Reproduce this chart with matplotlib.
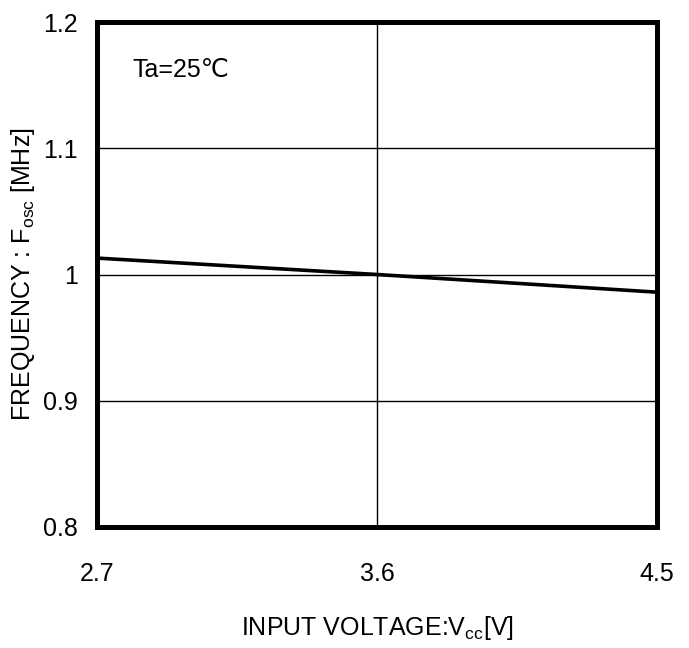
import matplotlib.pyplot as plt

# data
vcc = [2.7, 3.6, 4.5]
fosc = [1.013, 1.0, 0.986]
xticks = [2.7, 3.6, 4.5]
yticks = [0.8, 0.9, 1.0, 1.1, 1.2]
ytick_labels = ['0.8', '0.9', '1', '1.1', '1.2']

plt.rcParams['font.family'] = ['Liberation Sans', 'DejaVu Sans']

fig = plt.figure(figsize=(6.89, 6.48), dpi=100)
ax = fig.add_axes([97 / 689, 1 - 527 / 648, 560 / 689, 505 / 648])

ax.plot(vcc, fosc, color='black', linewidth=2.6, solid_capstyle='butt')

ax.set_xlim(2.7, 4.5)
ax.set_ylim(0.8, 1.2)
ax.set_xticks(xticks)
ax.set_yticks(yticks)
ax.set_yticklabels(ytick_labels)
ax.grid(True, color='black', linewidth=1.0)
ax.tick_params(length=0, labelsize=18)
ax.tick_params(axis='x', pad=25)
ax.tick_params(axis='y', pad=14)

for s in ax.spines.values():
    s.set_linewidth(3.6)
    s.set_zorder(5)

ax.text(0.064, 0.905, 'Ta=25\u2103', transform=ax.transAxes, fontsize=18,
        va='center')

ax.set_xlabel('INPUT VOLTAGE:V$_{\\mathregular{cc}}$[V]', fontsize=18, labelpad=20)
ax.set_ylabel('FREQUENCY : F$_{\\mathregular{osc}}$ [MHz]', fontsize=18, labelpad=4)

fig.savefig('out.png', dpi=100)
